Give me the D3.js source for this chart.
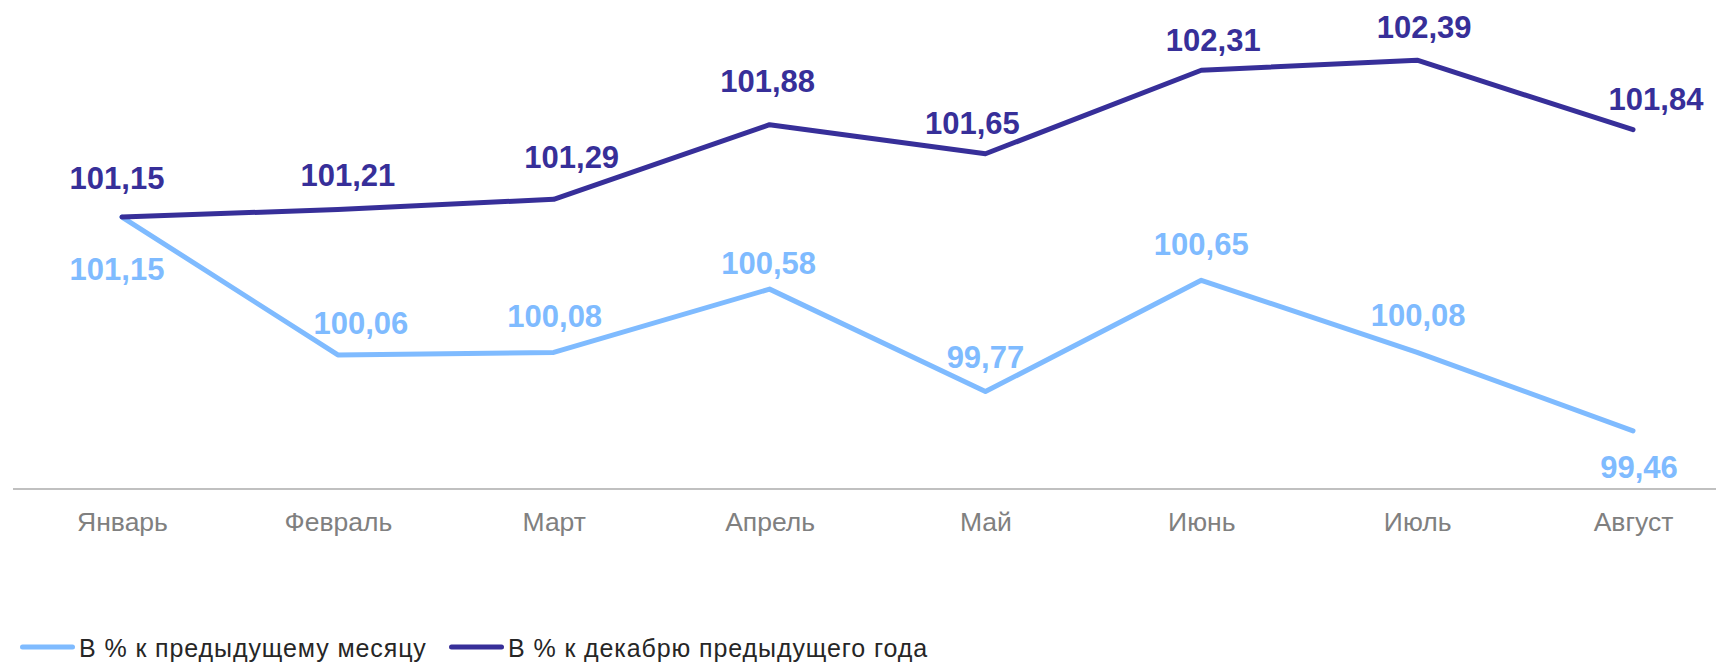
<!DOCTYPE html>
<html>
<head>
<meta charset="utf-8">
<script src="https://cdn.jsdelivr.net/npm/d3@7"></script>
<style>
  html, body { margin: 0; padding: 0; background: #fff; }
  svg { display: block; font-family: "Liberation Sans", Arial, sans-serif; }
</style>
</head>
<body>
<div id="chart"></div>
<script>
// data
const months = ["Январь", "Февраль", "Март", "Апрель", "Май", "Июнь", "Июль", "Август"];
const prevMonth = [101.15, 100.06, 100.08, 100.58, 99.77, 100.65, 100.08, 99.46];
const prevDec = [101.15, 101.21, 101.29, 101.88, 101.65, 102.31, 102.39, 101.84];
const seriesNames = ["В % к предыдущему месяцу", "В % к декабрю предыдущего года"];

// label nudges (dx, dy of baseline from the point)
const prevMonthNudge = [[-5, 63], [23, -21], [1, -25], [-1, -15], [0, -24], [0, -25], [1, -26], [6, 47]];
const prevDecNudge = [[-5, -28], [10, -23], [18, -31], [-2, -33], [-13, -20], [12, -19], [7, -22], [23, -20]];

const width = 1716;
const height = 664;
const colors = ["#7fbbff", "#372f99"];

const svg = d3.select("#chart")
    .append("svg")
    .attr("width", width)
    .attr("height", height);

const x = d3.scalePoint()
    .domain(months)
    .range([122, 1633]);

const y = d3.scaleLinear()
    .domain([99, 103])
    .range([489, 489 - 4 * 126.5]);

// baseline
svg.append("line")
    .attr("x1", 13)
    .attr("x2", width)
    .attr("y1", y(99))
    .attr("y2", y(99))
    .attr("stroke", "#c0c0c0")
    .attr("stroke-width", 2);

// month labels
const xAxis = svg.append("g")
    .attr("transform", `translate(0, ${y(99)})`)
    .call(d3.axisBottom(x).tickSize(0).tickPadding(23));
xAxis.select(".domain").remove();
xAxis.selectAll("text")
    .attr("font-family", "Liberation Sans, Arial, sans-serif")
    .attr("font-size", "26.5px")
    .attr("fill", "#808080");

const series = [
    { values: prevMonth, nudge: prevMonthNudge, color: colors[0] },
    { values: prevDec, nudge: prevDecNudge, color: colors[1] }
];

const line = d3.line()
    .x((d, i) => x(months[i]))
    .y(d => y(d));

series.forEach(s => {
    svg.append("path")
        .datum(s.values)
        .attr("d", line)
        .attr("fill", "none")
        .attr("stroke", s.color)
        .attr("stroke-width", 5)
        .attr("stroke-linejoin", "round")
        .attr("stroke-linecap", "round");

    svg.append("g")
        .selectAll("text")
        .data(s.values)
        .join("text")
        .attr("x", (d, i) => x(months[i]) + s.nudge[i][0])
        .attr("y", (d, i) => y(d) + s.nudge[i][1])
        .attr("text-anchor", "middle")
        .attr("font-size", "31px")
        .attr("font-weight", "bold")
        .attr("fill", s.color)
        .text(d => d3.format(".2f")(d).replace(".", ","));
});

// legend
const legend = svg.append("g").attr("transform", "translate(0, 647)");
const legendX = [20, 449];
seriesNames.forEach((name, i) => {
    const g = legend.append("g").attr("transform", `translate(${legendX[i]}, 0)`);
    g.append("line")
        .attr("x1", 2.5)
        .attr("x2", 52.5)
        .attr("stroke", colors[i])
        .attr("stroke-width", 5)
        .attr("stroke-linecap", "round");
    g.append("text")
        .attr("x", 59)
        .attr("y", 10)
        .attr("font-size", "25px")
        .attr("letter-spacing", "0.9px")
        .attr("fill", "#262626")
        .text(name);
});
</script>
</body>
</html>
